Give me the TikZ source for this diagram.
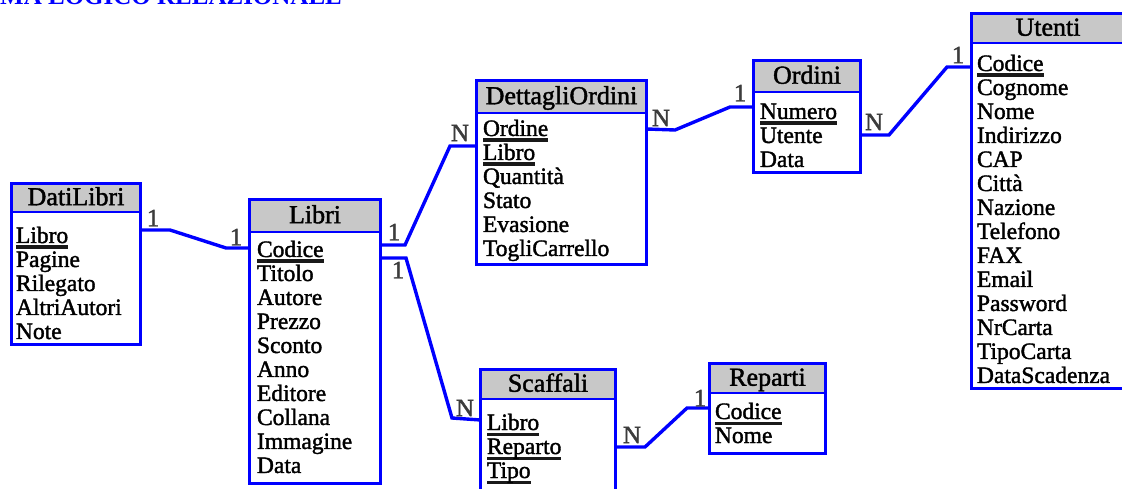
\documentclass[tikz,border=0pt]{standalone}
\usepackage{fontspec}
\setmainfont[FakeBold=1.6]{Liberation Serif}
\newfontfamily\titlefont{Liberation Serif}
\definecolor{erblue}{RGB}{0,0,255}
\definecolor{hdrgray}{RGB}{200,200,200}
\definecolor{lblgray}{RGB}{60,60,60}
\newcommand\rw[1]{\hbox{#1}}
\newcommand\pk[1]{\hbox{\setbox0\hbox{#1}\rlap{\color{black!90}\rule[-6pt]{\wd0}{3.5pt}}\box0}}
\tikzset{
 tblbody/.style={rectangle, fill=white, inner sep=0pt, outer sep=0pt},
 tblhead/.style={rectangle, fill=hdrgray, draw=erblue, line width=2.5pt, inner sep=0pt, outer sep=0pt,
   text height=19pt, text depth=4pt, font=\fontsize{26}{26}\selectfont},
 tblrows/.style={inner sep=0pt, outer sep=0pt, font=\fontsize{23.5}{24}\selectfont},
 tblframe/.style={draw=erblue, line width=3.8pt},
 conn/.style={draw=erblue, line width=3.4pt},
 card/.style={text=lblgray, font=\fontsize{25}{25}\selectfont, inner sep=0pt},
 titlestyle/.style={text=erblue, font=\titlefont\bfseries\fontsize{25}{25}\selectfont, inner sep=0pt}
}
\newcommand\tbl[9]{%
 \node[tblbody, minimum width=#4, minimum height=#5, anchor=north west] (#1) at (#2,#3) {};
 \node[tblhead, minimum width=#4, minimum height=#6, anchor=north west] (#1-h) at (#1.north west) {#7};
 \node[tblrows, anchor=base west] (#1-r) at (#8) {\vtop{\baselineskip=24pt\lineskiplimit=-1000pt\lineskip=0pt #9}};
 \draw[tblframe] (#1.north west) rectangle (#1.south east);
}
\begin{document}
\begin{tikzpicture}[x=1pt,y=-1pt]
\useasboundingbox (0,0) rectangle (1122,489);
\node[titlestyle, anchor=base west] (title) at (0,5) {MA LOGICO RELAZIONALE};

\tbl{datilibri}{11.5}{183.5}{129}{161}{28.5}{DatiLibri}{16,243}%
 {\pk{Libro}\rw{Pagine}\rw{Rilegato}\rw{AltriAutori}\rw{Note}}
\tbl{libri}{249.5}{199.5}{131}{284}{32.5}{Libri}{257,257}%
 {\pk{Codice}\rw{Titolo}\rw{Autore}\rw{Prezzo}\rw{Sconto}\rw{Anno}\rw{Editore}\rw{Collana}\rw{Immagine}\rw{Data}}
\tbl{dettagli}{476.5}{80.5}{170}{184}{32.5}{DettagliOrdini}{483,136}%
 {\pk{Ordine}\pk{Libro}\rw{Quantità}\rw{Stato}\rw{Evasione}\rw{TogliCarrello}}
\tbl{ordini}{753.5}{60.5}{107}{112}{31.5}{Ordini}{760,119}%
 {\pk{Numero}\rw{Utente}\rw{Data}}
\tbl{utenti}{971.5}{13.5}{153}{375}{29.5}{Utenti}{977,71}%
 {\pk{Codice}\rw{Cognome}\rw{Nome}\rw{Indirizzo}\rw{CAP}\rw{Città}\rw{Nazione}\rw{Telefono}\rw{FAX}\rw{Email}\rw{Password}\rw{NrCarta}\rw{TipoCarta}\rw{DataScadenza}}
\tbl{scaffali}{480.5}{369.5}{135}{150}{29.5}{Scaffali}{487,430}%
 {\pk{Libro}\pk{Reparto}\pk{Tipo}}
\tbl{reparti}{709.5}{363.5}{116}{90}{29.5}{Reparti}{715,419}%
 {\pk{Codice}\rw{Nome}}

\draw[conn] (datilibri.east |- 0,230) -- (170,230) -- (226,248) -- (libri.west |- 0,248);
\draw[conn] (libri.east |- 0,245) -- (405,245) -- (450,146) -- (dettagli.west |- 0,146);
\draw[conn] (libri.east |- 0,258) -- (406,258) -- (452,418) -- (scaffali.west |- 0,420);
\draw[conn] (dettagli.east |- 0,129) -- (675,130) -- (730,107) -- (ordini.west |- 0,107);
\draw[conn] (ordini.east |- 0,135) -- (889,135) -- (947,67) -- (utenti.west |- 0,67);
\draw[conn] (scaffali.east |- 0,447) -- (645,447) -- (687,408) -- (reparti.west |- 0,408);

\node[card] (c1a) at (153,218) {1};
\node[card] (c1b) at (236,237) {1};
\node[card] (c2a) at (394,232) {1};
\node[card] (c2b) at (460,133) {N};
\node[card] (c3a) at (398,270) {1};
\node[card] (c3b) at (465,408) {N};
\node[card] (c4a) at (661,118) {N};
\node[card] (c4b) at (740,93) {1};
\node[card] (c5a) at (874,122) {N};
\node[card] (c5b) at (958,55) {1};
\node[card] (c6a) at (632,435) {N};
\node[card] (c6b) at (700,398) {1};
\end{tikzpicture}
\end{document}
